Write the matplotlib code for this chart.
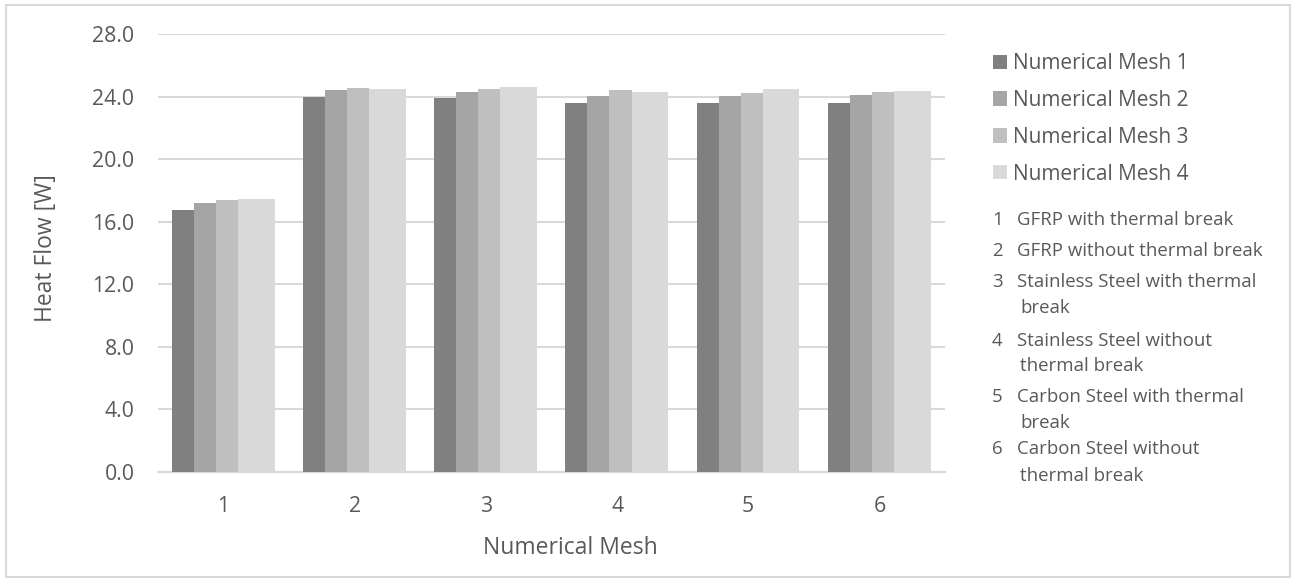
import matplotlib.pyplot as plt
from matplotlib.patches import Rectangle
import numpy as np

plt.rcParams['font.family'] = ['Open Sans', 'DejaVu Sans']

categories = ["1", "2", "3", "4", "5", "6"]
series_names = ["Numerical Mesh 1", "Numerical Mesh 2", "Numerical Mesh 3", "Numerical Mesh 4"]
mesh1 = [16.75, 24.00, 23.93, 23.57, 23.61, 23.61]
mesh2 = [17.20, 24.42, 24.30, 24.06, 24.02, 24.10]
mesh3 = [17.39, 24.55, 24.47, 24.40, 24.25, 24.32]
mesh4 = [17.45, 24.51, 24.60, 24.32, 24.49, 24.36]
case_labels = [
    ("1", ["GFRP with thermal break"]),
    ("2", ["GFRP without thermal break"]),
    ("3", ["Stainless Steel with thermal", "break"]),
    ("4", ["Stainless Steel without", "thermal break"]),
    ("5", ["Carbon Steel with thermal", "break"]),
    ("6", ["Carbon Steel without", "thermal break"]),
]
yticks = [0, 4, 8, 12, 16, 20, 24, 28]

colors = ["#808080", "#a5a5a5", "#bfbfbf", "#d9d9d9"]
text_c = "#595959"
grid_c = "#d9d9d9"

W, H = 1292, 580
fig = plt.figure(figsize=(W / 100, H / 100), dpi=100)
ax = fig.add_axes([158 / W, 1 - 472 / H, (945 - 158) / W, (472 - 34) / H])

x = np.arange(1, len(categories) + 1)
widths = [0.168, 0.168, 0.168, 0.28]
handles = []
offset = -0.5 + 0.106
for vals, w, c, name in zip([mesh1, mesh2, mesh3, mesh4], widths, colors, series_names):
    b = ax.bar(x + offset, vals, width=w, align="edge", color=c, label=name, zorder=3)
    handles.append(b)
    offset += w

ax.set_xlim(0.5, 6.5)
ax.set_ylim(0, 28)
ax.set_yticks(yticks)
ax.set_yticklabels([f"{v:.1f}" for v in yticks])
ax.set_xticks(x)
ax.set_xticklabels(categories)
ax.tick_params(axis="both", length=0, labelsize=15.3, colors=text_c)
ax.tick_params(axis="y", pad=17)
ax.tick_params(axis="x", pad=17)
ax.grid(axis="y", color=grid_c, linewidth=1.5, zorder=0)
for s in ["top", "right", "left"]:
    ax.spines[s].set_visible(False)
ax.spines["bottom"].set_color(grid_c)
ax.spines["bottom"].set_linewidth(1.5)

ax.set_ylabel("Heat Flow [W]", fontsize=16.5, color=text_c, va="center")
ax.yaxis.set_label_coords((46 - 158) / 787, (472 - 248) / 438)
ax.set_xlabel("Numerical Mesh", fontsize=16.5, color=text_c, va="center")
ax.xaxis.set_label_coords((570 - 158) / 787, (472 - 548) / 438)

leg = ax.legend(handles=handles, loc="upper left", bbox_to_anchor=(993 / W, 1 - 53 / H),
                bbox_transform=fig.transFigure, frameon=False, fontsize=15,
                handlelength=0.68, handleheight=0.68, handletextpad=0.3,
                labelspacing=0.76, borderpad=0, borderaxespad=0)
for t in leg.get_texts():
    t.set_color(text_c)

# numbered case list
line_y = [220, 251, 282, 308, 341, 366, 397, 423, 449, 476]
i = 0
for num, lines in case_labels:
    for j, line in enumerate(lines):
        yy = 1 - line_y[i] / H
        if j == 0:
            fig.text(992 / W, yy, num, fontsize=13.4, color=text_c, va="center")
            fig.text(1017 / W, yy, line, fontsize=13.4, color=text_c, va="center")
        else:
            fig.text(1020 / W, yy, line, fontsize=13.4, color=text_c, va="center")
        i += 1

fig.patches.append(Rectangle((6 / W, 3 / H), 1284 / W, 572 / H, transform=fig.transFigure,
                             fill=False, edgecolor=grid_c, linewidth=1.5))

fig.savefig("out.png", dpi=100)
